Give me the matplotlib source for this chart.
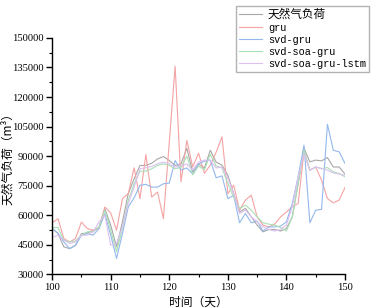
import numpy as np
import matplotlib
matplotlib.use("Agg")
import matplotlib.pyplot as plt
from matplotlib.ticker import MultipleLocator

# days
days = np.arange(100, 151)

# load values
actual = [53300, 50700, 44000, 43100, 44800, 50700, 51000, 52400, 53800, 63400,
          55000, 44000, 56600, 71000, 78500, 85300, 85300, 86400, 88600, 89800,
          87800, 85300, 86100, 94000, 82000, 86000, 84000, 93000, 87000, 85400,
          80300, 71000, 61700, 63500, 59200, 55000, 51600, 52800, 52800, 52000,
          53300, 59200, 76100, 94000, 87100, 88000, 87600, 89300, 84500, 84500,
          80900]
gru = [56100, 58300, 48200, 46500, 48200, 56600, 53300, 52400, 53300, 64200,
       61200, 52400, 68400, 71000, 84100, 68400, 90800, 69300, 71800, 58300,
       97000, 135600, 77000, 98000, 84500, 91500, 81300, 85400, 92000, 99800,
       71000, 75300, 62600, 67700, 70200, 59200, 55000, 54100, 55500, 59200,
       61700, 64300, 66000, 92200, 82900, 84500, 77800, 68500, 66300, 67700,
       74100]
svd_gru = [53300, 51000, 46500, 43100, 44800, 49900, 50700, 49900, 53300, 60800,
           49900, 38100, 50700, 64200, 68900, 75200, 75700, 74300, 74300, 76000,
           76300, 87800, 83000, 84000, 81000, 86000, 87500, 88000, 79000, 80000,
           68500, 70000, 56200, 60900, 56200, 57000, 52000, 54100, 54100, 54500,
           56700, 66000, 79500, 95600, 56200, 62600, 63000, 106200, 93000, 92200,
           86300]
svd_soa_gru = [53800, 53800, 47400, 46500, 47000, 49900, 51600, 51600, 54100, 62500,
               52400, 41500, 53300, 67600, 76000, 82400, 82400, 83600, 85300, 86100,
               85300, 83600, 84400, 90000, 80500, 85000, 83000, 91000, 85000, 84000,
               76100, 69300, 63500, 65100, 62600, 59200, 56200, 55500, 55000, 53800,
               52000, 59200, 76100, 93000, 82900, 84500, 83700, 84200, 82000, 81200,
               79500]
svd_soa_gru_lstm = [48700, 49900, 47400, 45700, 46500, 49900, 49900, 51600, 56600, 60000,
                    44800, 45700, 54100, 65900, 74300, 83600, 84100, 84800, 86100, 87000,
                    86100, 84400, 85300, 86000, 83000, 87000, 88000, 88000, 84000, 84500,
                    78700, 71000, 60900, 62600, 59200, 56700, 54100, 52800, 52000, 52800,
                    55000, 64300, 79500, 91300, 82900, 84500, 83700, 82900, 81500, 80900,
                    80300]

names = ["天然气负荷", "gru", "svd-gru", "svd-soa-gru", "svd-soa-gru-lstm"]
colors = ["#a8a8a8", "#f5a3a3", "#93b8ec", "#a9dfb5", "#dcc0f2"]
series = [actual, gru, svd_gru, svd_soa_gru, svd_soa_gru_lstm]

cjk = ["Noto Sans CJK SC", "DejaVu Sans"]

fig = plt.figure(figsize=(3.75, 3.08), dpi=100)
ax = fig.add_axes([0.139, 0.109, 0.781, 0.768])

for s, c, n in zip(series, colors, names):
    ax.plot(days, s, color=c, lw=0.8, label=n)

ax.set_xlim(100, 150)
ax.set_ylim(30000, 150000)
ax.xaxis.set_major_locator(MultipleLocator(10))
ax.xaxis.set_minor_locator(MultipleLocator(5))
ax.yaxis.set_major_locator(MultipleLocator(15000))
ax.yaxis.set_minor_locator(MultipleLocator(7500))

for sp in ["top", "right"]:
    ax.spines[sp].set_visible(False)
for sp in ["left", "bottom"]:
    ax.spines[sp].set_linewidth(1.0)

ax.tick_params(which="major", direction="out", length=4, width=1, labelsize=7.6, pad=2)
ax.tick_params(which="minor", direction="out", length=2.5, width=0.8)
for lab in ax.get_xticklabels() + ax.get_yticklabels():
    lab.set_family("Liberation Serif")

ax.set_xlabel("时间（天）", family=cjk, fontsize=8.5, labelpad=3)
ax.set_ylabel("天然气负荷（m³）", family=cjk, fontsize=8.5)
ax.yaxis.set_label_coords(-0.128, 0.5)

leg = fig.legend(loc="upper right", bbox_to_anchor=(0.998, 0.998), frameon=True,
                 fancybox=False, edgecolor="#a0a0a0", handlelength=2.2,
                 handletextpad=0.6, borderpad=0.3, labelspacing=0.2,
                 prop={"family": ["Liberation Mono", "Noto Sans CJK SC"], "size": 7.4})
leg.get_frame().set_linewidth(1.0)
leg.get_texts()[0].set_fontsize(8.4)

fig.savefig("out.png", dpi=100)
